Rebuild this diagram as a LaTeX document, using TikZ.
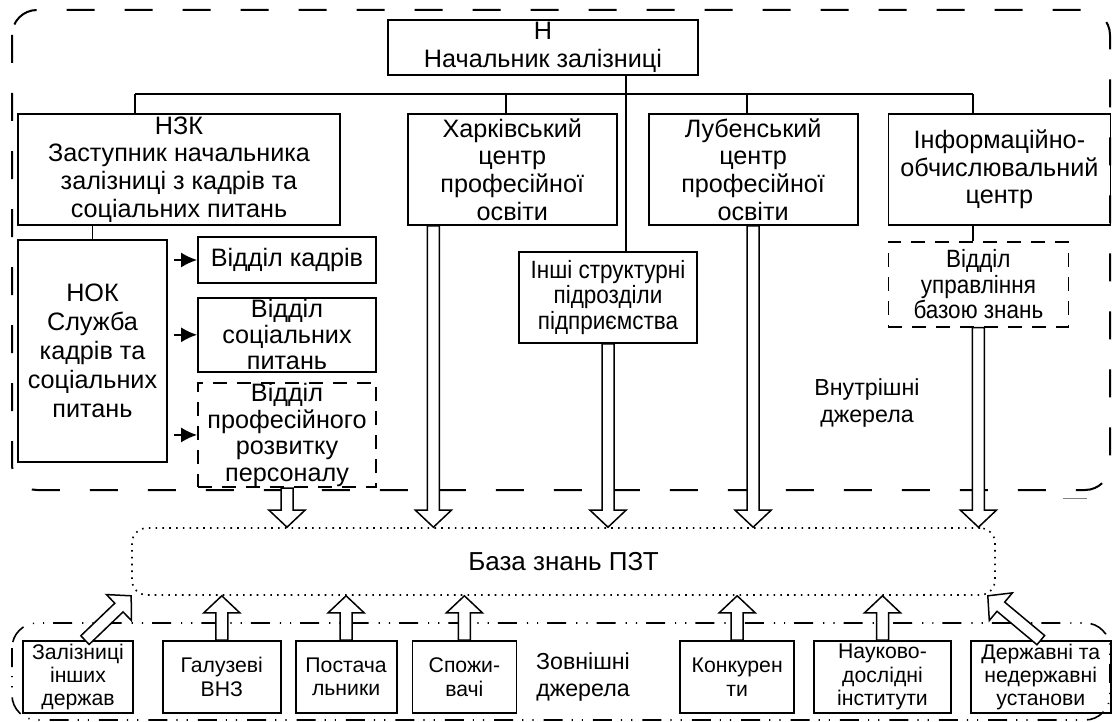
\documentclass[tikz,border=0pt]{standalone}
\usepackage{fontspec}
\setmainfont{Liberation Sans}
\newfontfamily\narrowfont[FakeStretch=0.9]{Liberation Sans}
\usetikzlibrary{positioning,calc,arrows.meta}
\tikzset{box/.style={draw,line width=0.9pt,inner sep=0.5pt,align=center,
		font=\fontsize{12.6}{13.8}\selectfont},
	dbox/.style={box,dash pattern=on 7pt off 5pt},
	nbox/.style={box,font=\narrowfont\fontsize{12.5}{12.8}\selectfont},
	lowbox/.style={box,minimum height=36pt,font=\fontsize{10.6}{11.7}\selectfont},
	blockarr/.style={draw,fill=white,line width=0.75pt,line join=miter},
	tag/.style={align=center,font=\fontsize{11.6}{13.5}\selectfont}}

% hollow block arrow from #1 to #2
\newcommand{\flowarrow}[2]{%
	\coordinate (ha) at (#1);
	\coordinate (hb) at (#2);
	\coordinate (hh) at ($(hb)!8.5pt!(ha)$);
	\path[blockarr] ($(ha)!3pt!90:(hb)$) -- ($(hh)!3pt!90:(hb)$) -- ($(hh)!9pt!90:(hb)$)
	-- (hb) -- ($(hh)!9pt!-90:(hb)$) -- ($(hh)!3pt!-90:(hb)$) -- ($(ha)!3pt!-90:(hb)$) -- cycle;}

\begin{document}
\begin{tikzpicture}[x=0.5pt,y=-0.5pt,line width=0.9pt]
	\useasboundingbox (0,0) rectangle (1113,722);
	% frames of the sources
	\draw[line width=1pt,dash pattern=on 14pt off 15pt,rounded corners=12.5pt] (12,10) rectangle (1110,490);
	\draw[line width=0.8pt,dash pattern=on 9.5pt off 4.5pt on 0.6pt off 4.5pt on 0.6pt off 5pt,rounded corners=12.5pt] (12,623) rectangle (1110,720);
	\draw[gray,line width=0.5pt] (1063,498) -- (1087,498);
	
	\node[box,minimum width=155pt,minimum height=27.5pt] (head) at (543,47.5) {Н\\Начальник залізниці};
	\node[box,minimum width=161pt,minimum height=55.5pt] (dep) at (179,169.5) {НЗК\\Заступник начальника\\залізниці з кадрів та\\соціальних питань};
	\node[box,minimum width=104.5pt,minimum height=55.5pt] (kh) [right=33pt of dep] {Харківський\\центр\\професійної\\освіти};
	\node[box,minimum width=104.5pt,minimum height=55.5pt] (lub) [right=15pt of kh] {Лубенський\\центр\\професійної\\освіти};
	\node[box,minimum width=111pt,minimum height=55.5pt] (ioc) [right=14.5pt of lub] {Інформаційно-\\обчислювальний\\центр};
	
	\node[box,minimum width=74.5pt,minimum height=111pt,font=\fontsize{12.6}{14.5}\selectfont] (nok) at (92.5,351) {НОК\\Служба\\кадрів та\\соціальних\\питань};
	\node[box,minimum width=89pt,minimum height=23pt] (kadry) at (287,260) {Відділ кадрів};
	\node[box,minimum width=89pt,minimum height=37pt,font=\fontsize{12.6}{13}\selectfont] (socp) [below=6.5pt of kadry] {Відділ\\соціальних\\питань};
	\node[dbox,minimum width=89pt,minimum height=50.5pt,font=\fontsize{12.6}{13.2}\selectfont] (prof) [below=4.5pt of socp] {Відділ\\професійного\\розвитку\\персоналу};
	
	\node[nbox,minimum width=89pt,minimum height=45.5pt] (other) at (608,297.5) {Інші структурні\\підрозділи\\підприємства};
	\node[nbox,dash pattern=on 7pt off 5pt,minimum width=90pt,minimum height=42.5pt] (kbm) [below right=7.5pt and 0pt of ioc.south west] {Відділ\\управління\\базою знань};
	\node[tag] (inner) at (867,403) {Внутрішні\\джерела};
	
	\node[draw,line width=0.8pt,dash pattern=on 0.8pt off 2.6pt,rounded corners=7.5pt,minimum width=431.5pt,minimum height=33.5pt,font=\fontsize{13}{14}\selectfont] (db) at (563.5,561.5) {База знань ПЗТ};
	
	\node[lowbox,minimum width=55pt] (zal) at (78,677) {Залізниці\\інших\\держав};
	\node[lowbox,minimum width=59pt] (gal) [right=14pt of zal] {Галузеві\\ВНЗ};
	\node[lowbox,minimum width=50.5pt] (post) [right=6.5pt of gal] {Постача\\льники};
	\node[lowbox,minimum width=52pt] (spoz) [right=7pt of post] {Спожи-\\вачі};
	\node[lowbox,minimum width=57pt] (konk) [right=81pt of spoz] {Конкурен\\ти};
	\node[lowbox,minimum width=68.5pt] (nauk) [right=9pt of konk] {Науково-\\дослідні\\інститути};
	\node[lowbox,minimum width=70pt] (derz) [right=9pt of nauk] {Державні та\\недержавні\\установи};
	\node[tag] (outer) at (583,677) {Зовнішні\\джерела};
	
	% subordination
	\coordinate (busL) at (135,94);
	\coordinate (busM) at (626,94);
	\coordinate (busR) at (973,94);
	\draw (busL) -- (busR);
	\draw (busL) -- (busL |- dep.north);
	\draw ([xshift=-3pt]kh.north) -- ([xshift=-3pt]kh.north |- busL);
	\draw (head.south -| busM) -- (other.north -| busM);
	\draw ([xshift=-3pt]lub.north) -- ([xshift=-3pt]lub.north |- busL);
	\draw (busR) -- (busR |- ioc.north);
	\draw (ioc.south -| busR) -- (kbm.north -| busR);
	\draw (dep.south -| nok.north) -- (nok.north);
	\foreach \t in {kadry,socp,prof}
	\draw[-{Latex[length=8pt,width=7.5pt]},shorten <=3pt] (nok.east |- \t.west) -- (\t.west);
	
	% flows into the knowledge base
	\flowarrow{prof.south}{db.north -| ha}
	\flowarrow{[xshift=13.25pt]kh.south west}{db.north -| ha}
	\flowarrow{other.south}{db.north -| ha}
	\flowarrow{lub.south}{db.north -| ha}
	\flowarrow{kbm.south}{db.north -| ha}
	\foreach \s in {gal,post,spoz,konk,nauk}
	\flowarrow{\s.north}{db.south -| ha};
	\flowarrow{[xshift=3.5pt]zal.north}{db.south west}
	\flowarrow{derz.north}{[xshift=-4pt]db.south east}
\end{tikzpicture}
\end{document}
